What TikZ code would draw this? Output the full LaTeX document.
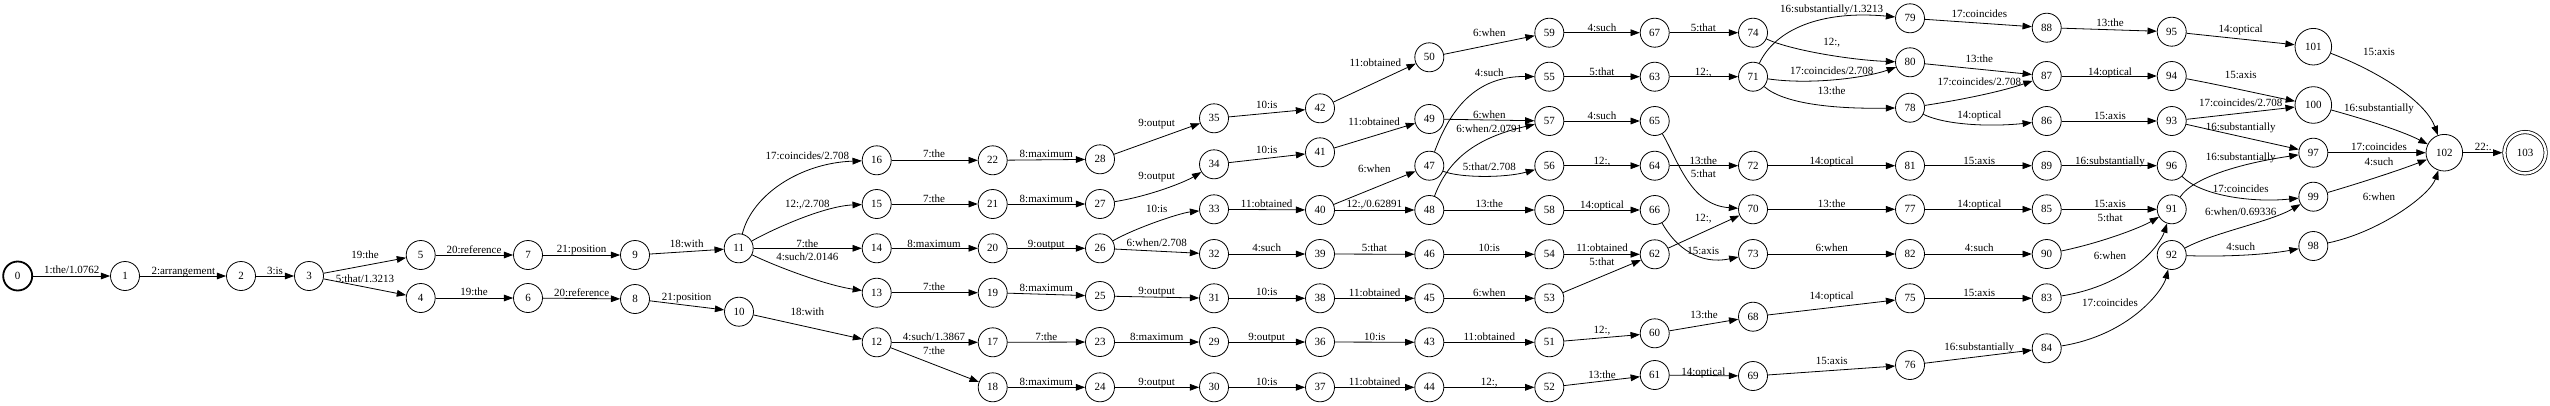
\documentclass[tikz,border=0pt]{standalone}
\usepackage{fontspec}
\setmainfont{Liberation Serif}
\usetikzlibrary{arrows.meta}

\begin{document}
\begin{tikzpicture}[
  x=1pt, y=-1pt,
  >={Triangle[length=9.3pt,width=6.7pt]},
  every node/.style={font=\fontsize{11}{13}\selectfont},
  state/.style={circle, draw, line width=0.8pt, minimum size=29pt, inner sep=0pt},
  startstate/.style={state, line width=1.8pt},
  bigstate/.style={state, minimum size=36.6pt},
  finalstate/.style={state, minimum size=41.3pt, double, double distance=2.5pt, outer sep=2pt},
  trans/.style={->, line width=0.8pt},
  lbl/.style={inner sep=0pt, text height=7.3pt, text depth=0pt},
]
\useasboundingbox (0,0) rectangle (2550,405);

% States
\node[startstate] (n0) at (17.7,276) {0};
\foreach \n/\x/\y in {1/125/276, 2/241/276, 3/309/276, 5/420.7/255, 4/420.7/298,
    7/528/255, 6/528/298, 9/635/255, 8/635/299, 11/738.7/248.3, 10/739/311.7,
    16/876.7/160.3, 15/876.7/204, 14/876.7/248.3, 13/876.7/292.7, 12/876.7/342.3,
    22/992.7/160.3, 21/992.7/204, 20/992.7/248.3, 19/992.7/292.7, 17/992.7/342.3, 18/992.7/387.3,
    28/1100/159.3, 27/1100/204, 26/1100/248.3, 25/1100/296, 23/1100/342, 24/1100/387.3,
    35/1214/118.3, 34/1214/164.3, 33/1214/209.3, 32/1214/254, 31/1214/298.3, 29/1214/342, 30/1214/387.3,
    42/1320/108.3, 41/1320/152.3, 40/1320/210, 39/1320/254, 38/1320/298.3, 36/1320/342, 37/1320/387.3,
    50/1429.3/57.3, 49/1429.3/119, 47/1429.3/165.7, 48/1429.3/210, 46/1429.3/254.3,
    45/1429.3/298.3, 43/1429.3/342.3, 44/1429.3/387.3,
    59/1549.3/32.7, 55/1549.3/76.7, 57/1549.3/121, 56/1549.3/165.7, 58/1549.3/210,
    54/1549.3/254.3, 53/1549.3/298.3, 51/1549.3/342.3, 52/1549.3/387.3,
    67/1654.7/32.7, 63/1654.7/76.7, 65/1654.7/121, 64/1654.7/165.7, 66/1654.7/210,
    62/1654.7/254.3, 60/1654.7/333.3, 61/1654.7/375,
    74/1753/32.7, 71/1753/76.7, 72/1753/165.7, 70/1753/209.3, 73/1753/254, 68/1753/316.7, 69/1753/376,
    79/1910/18.3, 80/1910/62.3, 78/1910/107.7, 81/1910/165.7, 77/1910/209.3, 82/1910/254,
    75/1910/298.3, 76/1910/365,
    88/2046.7/27.7, 87/2046.7/76, 86/2046.7/121, 89/2046.7/165.7, 85/2046.7/209.3,
    90/2046.7/254, 83/2046.7/298.3, 84/2046.7/348.3,
    95/2171.7/31.7, 94/2171.7/76, 93/2171.7/121, 96/2171.7/165.7, 91/2171.7/209.3, 92/2171.7/255,
    97/2313.3/152.7, 99/2313.3/196.7, 98/2313.3/246}
  \node[state] (n\n) at (\x,\y) {\n};
\node[bigstate] (n101) at (2313.3,46.7) {101};
\node[bigstate] (n100) at (2313.3,105) {100};
\node[bigstate] (n102) at (2444.3,152.7) {102};
\node[finalstate] (n103) at (2525,152.7) {103};

% Straight transitions
\foreach \a/\b/\x/\y/\t in {0/1/71.7/270/{1:the/1.0762}, 1/2/183.3/270.7/{2:arrangement},
    2/3/275/270.7/{3:is}, 3/5/365/255.3/{19:the}, 3/4/365/279.3/{5:that/1.3213},
    5/7/474/250/{20:reference}, 4/6/474/292.3/{19:the}, 7/9/581.7/249.3/{21:position},
    6/8/581.7/292.7/{20:reference}, 9/11/686.7/244.3/{18:with}, 8/10/686.7/296.7/{21:position},
    11/14/807.3/244/{7:the}, 10/12/807.3/312.3/{18:with},
    16/22/934/154/{7:the}, 15/21/934/198.7/{7:the}, 14/20/934/244/{8:maximum},
    13/19/934/287.3/{7:the}, 12/17/934/337.3/{4:such/1.3867}, 12/18/934/351/{7:the},
    22/28/1046.3/154/{8:maximum}, 21/27/1046.3/198.7/{8:maximum}, 20/26/1046.3/244/{9:output},
    19/25/1046.3/288.3/{8:maximum}, 17/23/1046.3/337.3/{7:the}, 18/24/1046.3/381.7/{8:maximum},
    28/35/1156.7/122.7/{9:output}, 26/32/1156.7/243.3/{6:when/2.708}, 25/31/1156.7/290.7/{9:output},
    23/29/1156.7/337.3/{8:maximum}, 24/30/1156.7/381.7/{9:output},
    35/42/1266.7/105.3/{10:is}, 34/41/1266.7/150/{10:is}, 33/40/1266.7/204/{11:obtained},
    32/39/1266.7/248.3/{4:such}, 31/38/1266.7/292.3/{10:is}, 29/36/1266.7/337.3/{9:output},
    30/37/1266.7/381.7/{10:is},
    42/50/1375.3/63.3/{11:obtained}, 41/49/1374/122.3/{11:obtained}, 40/47/1374.3/169.3/{6:when},
    40/48/1374.3/204.3/{12:,/0.62891}, 39/46/1374.3/248.3/{5:that}, 38/45/1374.7/292.7/{11:obtained},
    36/43/1374.7/337.3/{10:is}, 37/44/1374.7/381.7/{11:obtained},
    50/59/1489.3/32.7/{6:when}, 49/57/1489.3/115/{6:when}, 48/58/1489.3/204/{13:the},
    46/54/1489.3/248.3/{10:is}, 45/53/1489.3/292.7/{6:when}, 43/51/1489.3/337.3/{11:obtained},
    44/52/1489.3/381.7/{12:,},
    59/67/1602/27.7/{4:such}, 55/63/1602/71.7/{5:that}, 57/65/1602/115.7/{4:such},
    56/64/1602/160.7/{12:,}, 58/66/1602/204.7/{14:optical}, 54/62/1602/248.3/{11:obtained},
    53/62/1602/262.3/{5:that}, 51/60/1602/330/{12:,}, 52/61/1602/375/{13:the},
    67/74/1703.3/27.7/{5:that}, 63/71/1703.3/71.7/{12:,}, 64/72/1703.3/160.7/{13:the},
    62/70/1703.3/218.3/{12:,}, 60/68/1704/315/{13:the}, 61/69/1703.3/371.7/{14:optical},
    72/81/1831.7/160.7/{14:optical}, 70/77/1831.7/204/{13:the}, 73/82/1831.7/248.3/{6:when},
    68/75/1831.7/296/{14:optical}, 69/76/1831.7/361/{15:axis},
    79/88/1979.3/14.3/{17:coincides}, 80/87/1979.3/59.3/{13:the}, 81/89/1979.3/160.7/{15:axis},
    77/85/1979.3/204/{14:optical}, 82/90/1979.3/248.3/{4:such}, 75/83/1979.3/292.7/{15:axis},
    76/84/1979.3/346.7/{16:substantially},
    88/95/2110/22.7/{13:the}, 87/94/2110/71.7/{14:optical}, 86/93/2110/115.7/{15:axis},
    89/96/2110/160.7/{16:substantially}, 85/91/2110/204/{15:axis},
    95/101/2240.7/28.7/{14:optical}, 93/100/2240.7/103.3/{17:coincides/2.708},
    97/102/2379/147.3/{17:coincides}, 102/103/2483.3/147.3/{22:.}}
  \draw[trans] (n\a) -- (n\b) node[lbl] at (\x,\y) {\t};

% Curved transitions
\draw[trans] (n11) .. controls (752,195) and (800,163) .. (n16) node[lbl] at (807.3,156) {17:coincides/2.708};
\draw[trans] (n11) .. controls (775,228) and (825,206) .. (n15) node[lbl] at (807.3,204) {12:,/2.708};
\draw[trans] (n11) .. controls (775,266) and (825,285) .. (n13) node[lbl] at (807.3,257.3) {4:such/2.0146};
\draw[trans] (n26) .. controls (1135,228) and (1180,213) .. (n33) node[lbl] at (1156.7,209.3) {10:is};
\draw[trans] (n27) .. controls (1150,196) and (1185,182) .. (n34) node[lbl] at (1156.7,175.7) {9:output};
\draw[trans] (n47) .. controls (1450,110) and (1475,76) .. (n55) node[lbl] at (1489.3,73.3) {4:such};
\draw[trans] (n48) .. controls (1448,160) and (1475,138) .. (n57) node[lbl] at (1489.3,129) {6:when/2.0791};
\draw[trans] (n47) .. controls (1460,178) and (1505,178) .. (n56) node[lbl] at (1489.3,166.7) {5:that/2.708};
\draw[trans] (n65) .. controls (1678,160) and (1690,205) .. (n70) node[lbl] at (1703.3,174) {5:that};
\draw[trans] (n66) .. controls (1676,248) and (1700,265) .. (n73) node[lbl] at (1703.3,250.7) {15:axis};
\draw[trans] (n71) .. controls (1775,30) and (1820,10) .. (n79) node[lbl] at (1831.7,9.3) {16:substantially/1.3213};
\draw[trans] (n74) .. controls (1790,50) and (1850,60) .. (n80) node[lbl] at (1831.7,41.7) {12:,};
\draw[trans] (n71) .. controls (1810,85) and (1865,78) .. (n80) node[lbl] at (1831.7,70.7) {17:coincides/2.708};
\draw[trans] (n71) .. controls (1785,105) and (1840,109) .. (n78) node[lbl] at (1831.7,90.7) {13:the};
\draw[trans] (n78) .. controls (1960,100) and (2000,92) .. (n87) node[lbl] at (1979.3,81.7) {17:coincides/2.708};
\draw[trans] (n78) .. controls (1945,125) and (1990,127) .. (n86) node[lbl] at (1979.3,115) {14:optical};
\draw[trans] (n90) .. controls (2100,243) and (2140,228) .. (n91) node[lbl] at (2110,218.3) {5:that};
\draw[trans] (n83) .. controls (2130,285) and (2160,245) .. (n91) node[lbl] at (2110,255.7) {6:when};
\draw[trans] (n84) .. controls (2130,335) and (2163,290) .. (n92) node[lbl] at (2110,302.7) {17:coincides};
\draw[trans] (n91) .. controls (2195,175) and (2250,162) .. (n97) node[lbl] at (2240.7,157.3) {16:substantially};
\draw[trans] (n96) .. controls (2200,195) and (2250,203) .. (n99) node[lbl] at (2240.7,188.7) {17:coincides};
\draw[trans] (n92) .. controls (2215,232) and (2270,222) .. (n99) node[lbl] at (2240.7,212) {6:when/0.69336};
\draw[trans] (n92) .. controls (2220,257) and (2265,255) .. (n98) node[lbl] at (2240.7,247.3) {4:such};
\draw[trans] (n93) .. controls (2220,132) and (2265,142) .. (n97) node[lbl] at (2240.7,126.7) {16:substantially};
\draw[trans] (n94) .. controls (2220,85) and (2265,95) .. (n100) node[lbl] at (2240.7,74.7) {15:axis};
\draw[trans] (n101) .. controls (2375,70) and (2425,100) .. (n102) node[lbl] at (2379,52.3) {15:axis};
\draw[trans] (n100) .. controls (2360,118) and (2400,130) .. (n102) node[lbl] at (2379,108.3) {16:substantially};
\draw[trans] (n99) .. controls (2360,183) and (2400,170) .. (n102) node[lbl] at (2379,161.7) {4:such};
\draw[trans] (n98) .. controls (2380,232) and (2430,195) .. (n102) node[lbl] at (2379,197.3) {6:when};
\end{tikzpicture}
\end{document}
